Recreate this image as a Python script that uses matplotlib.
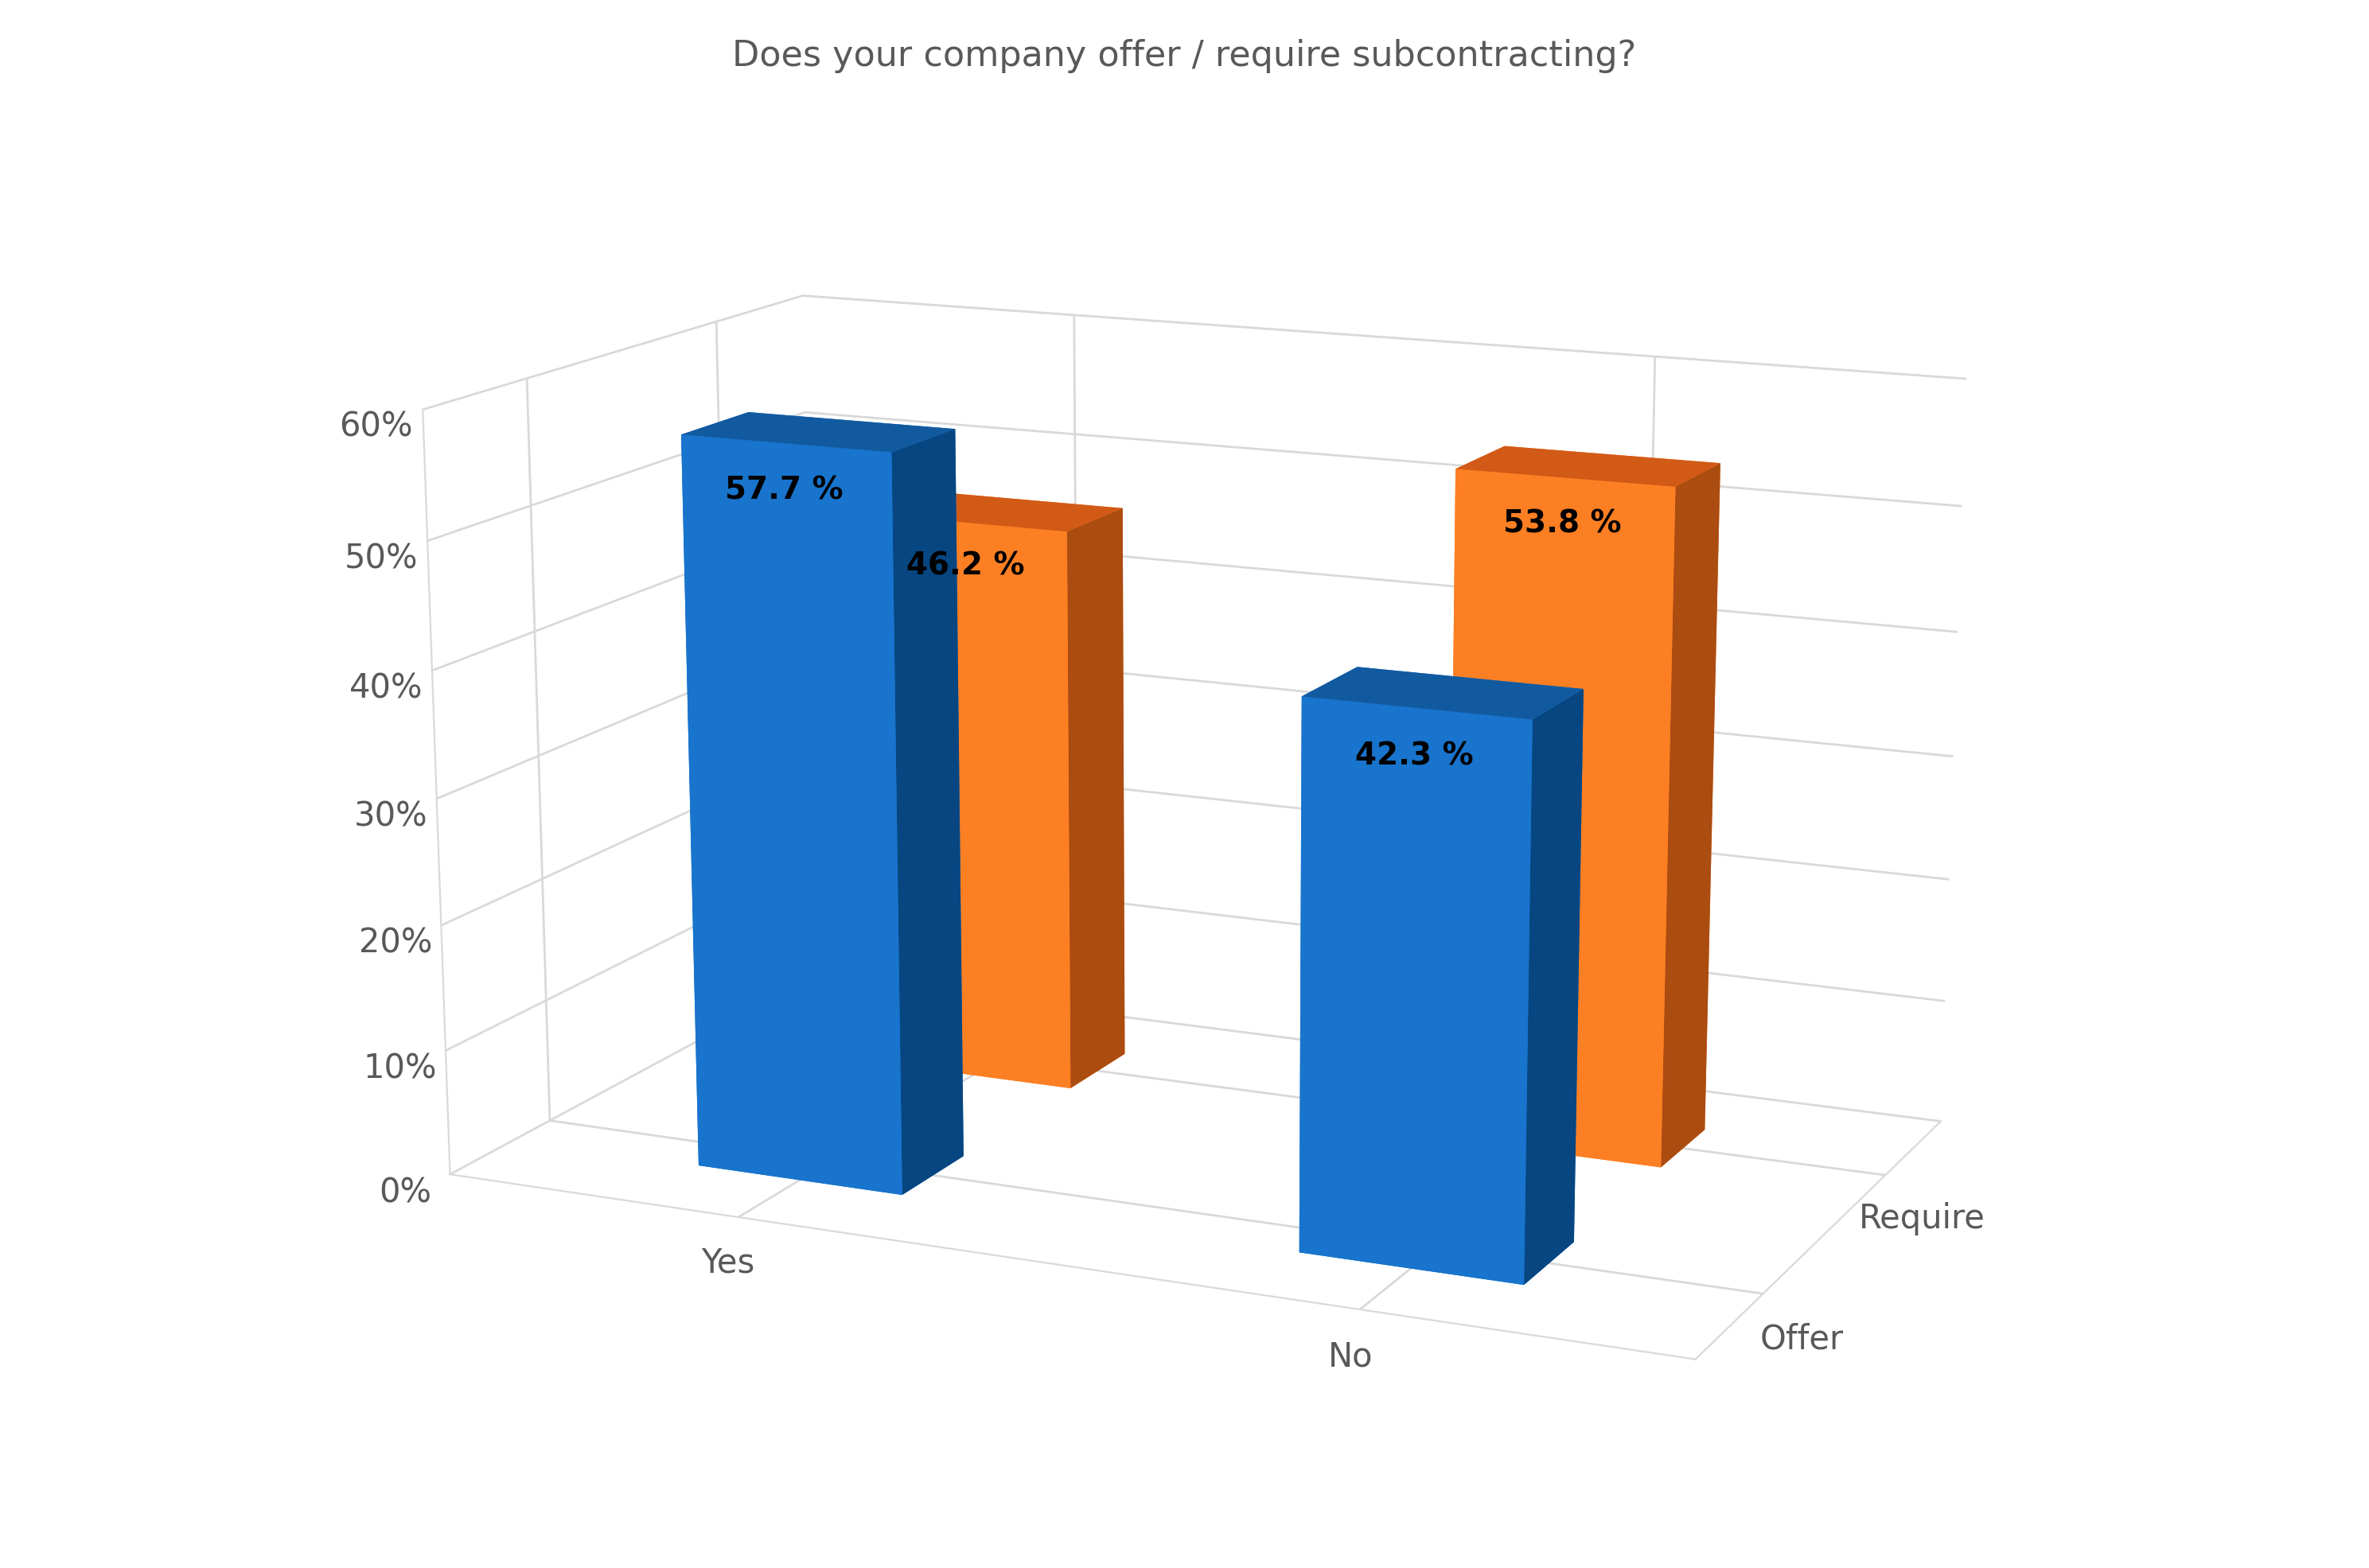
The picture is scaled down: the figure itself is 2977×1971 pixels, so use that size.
import numpy as np
import matplotlib.pyplot as plt

categories = ['Yes', 'No']
series = ['Offer', 'Require']
offer = [57.7, 42.3]
require = [46.2, 53.8]
yticks = [0, 10, 20, 30, 40, 50, 60]

# face colours: bottom, top, front, back, left, right
face_colors = {
    'Offer': ['#1874cd', '#125aa0', '#1874cd', '#1874cd', '#1874cd', '#074680'],
    'Require': ['#fd7f23', '#d15a17', '#fd7f23', '#fd7f23', '#fd7f23', '#ab4c11'],
}

fig = plt.figure(figsize=(14.885, 9.855), dpi=200)
ax = fig.add_axes([0.0, -0.04, 1.0, 1.06], projection='3d')
ax.set_proj_type('persp', focal_length=0.6)
ax.view_init(elev=14, azim=-66)

dx, dy = 0.35, 0.35
for j, (name, vals) in enumerate([('Offer', offer), ('Require', require)]):
    for i, v in enumerate(vals):
        x = i - dx / 2
        y = j - dy / 2
        ax.bar3d(x, y, 0, dx, dy, v, color=face_colors[name], shade=False,
                 edgecolor='none', alpha=1)
        ax.text(i, y - 0.01, v - 3.5, f'{v} %', ha='center', va='center',
                fontsize=14, fontweight='bold', zorder=10)

ax.set_xlim(-0.5, 1.5)
ax.set_ylim(-0.5, 1.5)
ax.set_zlim(0, 60)
ax.set_xticks(range(len(categories)))
ax.set_xticklabels(categories, fontsize=15, color='#595959')
ax.set_yticks(range(len(series)))
ax.set_yticklabels(series, fontsize=15, color='#595959')
ax.set_zticks(yticks)
ax.set_zticklabels([f'{t}%' for t in yticks], fontsize=15, color='#595959')
ax.zaxis._axinfo['juggled'] = (1, 2, 0)

for axis in (ax.xaxis, ax.yaxis, ax.zaxis):
    axis.set_pane_color((1, 1, 1, 0))
    axis.pane.set_edgecolor('#d9d9d9')
    axis._axinfo['grid']['color'] = '#d9d9d9'
    axis._axinfo['grid']['linewidth'] = 1.0
    axis.line.set_color('#d9d9d9')
    axis._axinfo['tick']['inward_factor'] = 0
    axis._axinfo['tick']['outward_factor'] = 0

ax.set_box_aspect((2.2, 1.3, 1.3))
fig.suptitle('Does your company offer / require subcontracting?', y=0.975,
             fontsize=16, color='#595959')
fig.savefig('out.png', dpi=200)
